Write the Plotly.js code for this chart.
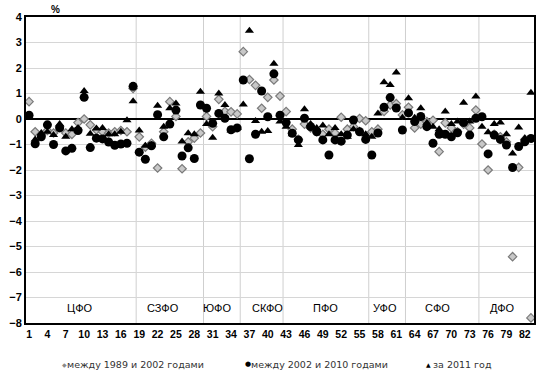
<!DOCTYPE html>
<html><head><meta charset="utf-8">
<script src="https://cdn.plot.ly/plotly-3.0.1.min.js"></script>
<style>body{margin:0;background:#fff}#c{width:543px;height:373px}</style>
</head><body><div id="c"></div>
<script>
const regions = Array.from({length:83},(_,i)=>i+1);
const tickVals = [1,4,7,10,13,16,19,22,25,28,31,34,37,40,43,46,49,52,55,58,61,64,67,70,73,76,79,82];
const d1989_2002 = [0.68,-0.5,-0.65,-0.45,-0.55,-0.3,-0.55,-0.6,-0.14,0.0,
 -0.23,-0.43,-0.5,-0.55,-0.5,-0.45,-0.5,1.2,-0.7,-1.1,
 -0.95,-1.92,-0.5,0.68,0.1,-1.95,-0.9,-0.75,-0.55,0.1,
 -0.3,0.77,0.3,0.28,0.2,2.64,1.55,1.32,0.42,0.85,
 1.53,0.9,0.29,-0.4,-0.8,-0.2,-0.35,-0.5,-0.6,-0.4,
 -0.55,0.07,-0.4,-0.3,0.02,-0.07,-0.5,-0.4,0.3,0.55,
 0.6,0.16,0.46,-0.35,-0.2,-0.1,-0.05,-1.28,-0.15,-0.35,
 -0.5,-0.2,-0.35,0.35,-0.98,-2.0,-0.6,-0.7,-0.9,-5.4,
 -1.9,-0.8,-7.8];
const d2002_2010 = [0.15,-0.97,-0.7,-0.23,-1.0,-0.35,-1.25,-1.15,-0.45,0.85,
 -1.12,-0.75,-0.78,-0.9,-1.03,-0.98,-0.95,1.28,-1.3,-1.58,
 -1.05,0.17,-0.7,-0.2,0.35,-1.45,-1.13,-1.55,0.55,0.42,
 -0.17,0.22,0.03,-0.42,-0.35,1.53,-1.56,-0.6,1.1,0.09,
 1.77,0.15,-0.14,-0.56,-0.82,0.03,-0.3,-0.5,-0.82,-1.41,
 -0.82,-0.87,-0.63,-0.04,-0.5,-0.8,-1.41,-0.55,0.46,0.84,
 0.43,-0.43,0.24,-0.1,0.1,-0.3,-0.95,-0.6,-0.6,-0.7,
 -0.54,-0.14,-0.63,0.03,0.09,-1.37,-0.63,-0.8,-1.02,-1.9,
 -1.08,-0.89,-0.76];
const y2011 = [0.1,-0.8,-0.55,-0.5,-0.63,-0.2,-0.7,-0.4,-0.35,1.1,
 -0.58,-0.37,-0.35,-0.6,-0.6,-0.5,-0.05,0.7,-0.45,-1.05,
 -1.02,0.52,-0.3,0.42,0.61,-0.88,-0.56,-0.6,1.07,-0.2,
 -0.74,1.0,0.55,-0.45,-0.35,0.57,3.46,-0.08,-0.5,-0.47,
 2.17,-0.1,-0.3,-0.6,-1.02,0.38,-0.2,-0.35,-0.25,-0.6,
 -0.35,-0.6,-0.7,-0.4,-0.45,-0.6,-0.7,0.22,1.44,1.33,
 1.82,0.05,0.81,0.05,0.42,-0.15,-0.3,-0.4,0.29,-0.2,
 -0.1,0.64,-0.1,0.88,-0.3,-0.52,-0.2,-0.14,-0.6,-1.35,
 -0.33,-0.75,1.03];
const districts = ["ЦФО","СЗФО","ЮФО","СКФО","ПФО","УФО","СФО","ДФО"];
const districtLabelX = [9.3,22.9,31.7,40,49.4,59.2,67.8,78.3];
const districtBounds = [18.5,29.5,35.5,42.5,56.5,62.5,74.5];
const seriesNames = ["между 1989 и 2002 годами","между 2002 и 2010 годами","за 2011 год"];

const F = "Liberation Sans, Arial, sans-serif";
const traces = [
 {x:regions,y:d1989_2002,type:'scatter',mode:'markers',name:seriesNames[0],
  marker:{symbol:'diamond',size:6.5,color:'#c8c8c8',line:{color:'#7a7a7a',width:1.2}}},
 {x:regions,y:d2002_2010,type:'scatter',mode:'markers',name:seriesNames[1],
  marker:{symbol:'circle',size:9,color:'#000'}},
 {x:regions,y:y2011,type:'scatter',mode:'markers',name:seriesNames[2],
  marker:{symbol:'triangle-up',size:8,color:'#000'}}
];
const shapes = districtBounds.map(b=>({type:'line',xref:'x',yref:'y',x0:b,x1:b,y0:-8,y1:4,
  line:{color:'#cfcfcf',width:1},layer:'below'}));
const annotations = districts.map((t,i)=>({x:districtLabelX[i],y:-7.4,xref:'x',yref:'y',text:t,
  showarrow:false,font:{family:F,size:11,color:'#000'}}));
annotations.push({x:0.045,y:1.0,xref:'paper',yref:'paper',yanchor:'bottom',text:'%',showarrow:false,
   font:{family:F,size:10,color:'#000',weight:'bold'}});
// legend drawn as annotations (symbol + text)
const legendSym = ['<span style="color:#8a8a8a">◆</span>','●','▲'];
const legendSymSize = [6,7,6];
const legendSymPx = [60,243,424];
const legendTxtPx = [65,249,431];
seriesNames.forEach((n,i)=>{
  annotations.push({x:(legendSymPx[i]-26)/508,y:-0.134,xref:'paper',yref:'paper',xanchor:'left',yanchor:'middle',
    showarrow:false,text:legendSym[i],font:{family:'DejaVu Sans',size:legendSymSize[i],color:'#000'}});
  annotations.push({x:(legendTxtPx[i]-26)/508,y:-0.134,xref:'paper',yref:'paper',xanchor:'left',yanchor:'middle',
    showarrow:false,text:n,font:{family:'DejaVu Sans, sans-serif',size:9.5,color:'#333'}});
});
const layout = {
 width:543,height:373,margin:{l:26,r:9,t:17,b:50},
 paper_bgcolor:'#fff',plot_bgcolor:'#fff',
 font:{family:F,color:'#000'},
 showlegend:false,
 xaxis:{range:[0.5,83.5],tickvals:tickVals,ticktext:tickVals.map(String),showgrid:false,zeroline:false,
   showline:true,linecolor:'#000',linewidth:2,mirror:true,ticks:'',ticklen:0,
   tickfont:{family:F,size:10.5,color:'#000',weight:'bold'}},
 yaxis:{range:[-8,4],dtick:1,tick0:0,showgrid:true,gridcolor:'#d6d6d6',gridwidth:1,
   zeroline:true,zerolinecolor:'#000',zerolinewidth:1.5,
   showline:true,linecolor:'#000',linewidth:2,mirror:true,ticks:'',
   tickfont:{family:F,size:11,color:'#000',weight:'bold'}},
 shapes:shapes,
 annotations:annotations
};
Plotly.newPlot('c',traces,layout,{displayModeBar:false,staticPlot:true});
</script></body></html>
